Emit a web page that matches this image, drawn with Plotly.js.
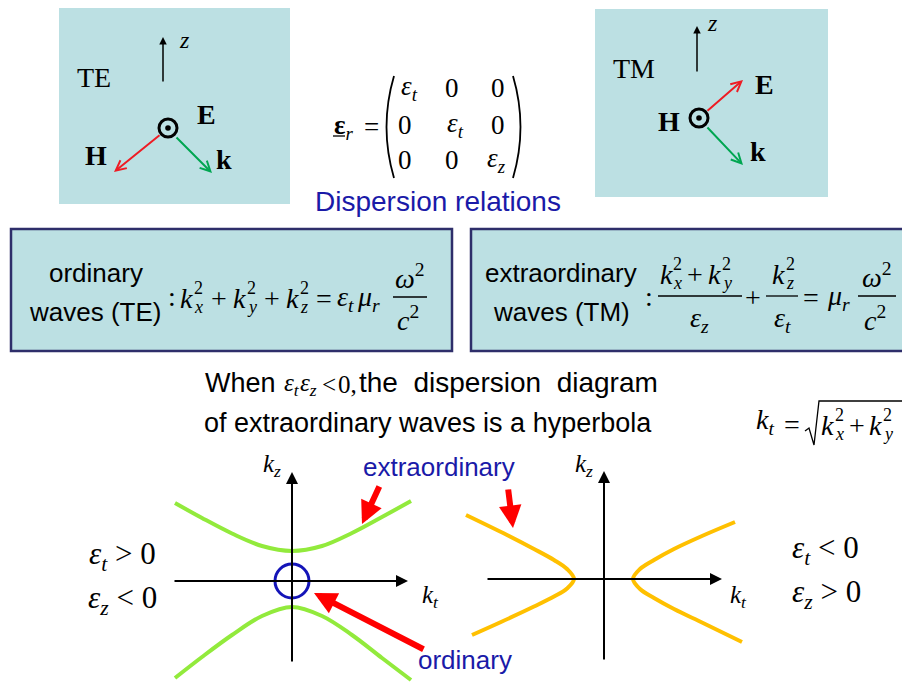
<!DOCTYPE html>
<html><head><meta charset="utf-8">
<script src="https://cdn.plot.ly/plotly-3.0.1.min.js"></script>
<style>html,body{margin:0;padding:0;background:#fff}</style>
</head><body><div id="chart" style="width:902px;height:682px"></div>
<script>
// ---- data (kt, kz in diagram units) ----
const greenUpperKt = [-11.7, -9, -6, -3, 0, 3, 6, 9, 11.9];
const greenUpperKz = [7.8, 6.3, 4.75, 3.5, 3.0, 3.5, 4.8, 6.4, 8.0];
const greenLowerKt = [-11.7, -9, -6, -3, 0, 3, 6, 9, 11.9];
const greenLowerKz = [-9.7, -7.6, -5.4, -3.5, -2.6, -3.5, -5.4, -7.7, -9.9];
const orangeLeftKt = [-13.8, -9.7, -7.0, -5.0, -3.7, -3.0, -3.7, -5.0, -7.0, -10.3, -13.2];
const orangeLeftKz = [6.4, 4.4, 3.0, 1.9, 1.0, 0, -0.95, -1.75, -2.75, -4.3, -5.6];
const orangeRightKt = [13.1, 9.8, 7.0, 5.0, 3.6, 2.9, 3.6, 5.0, 7.0, 9.9, 13.8];
const orangeRightKz = [5.7, 4.3, 3.0, 1.9, 1.0, 0, -1.0, -1.9, -3.0, -4.4, -6.3];
const ordinaryKt = [0];
const ordinaryKz = [0];

const W = 902, H = 682;
const X = p => p / W, Y = p => 1 - p / H;
const SERIF = 'Liberation Serif, Times New Roman, serif';
const SANS = 'Liberation Sans, Arial, sans-serif';
const BOXFILL = '#BCE0E3';
const BLUE = '#1A1AA8';
const annotations = [], shapes = [];

function txt(text, x, y, o = {}) {
  annotations.push({text, x: X(x), y: Y(y), xref: 'paper', yref: 'paper', showarrow: false,
    xanchor: o.xa || 'center', yanchor: 'middle', borderpad: 0,
    font: {family: o.f || SERIF, size: o.s || 28, color: o.c || '#000'}});
}
function kss(x, y, base, sup, sub, dx = 14, s = 28) {
  txt('<i>' + base + '</i>', x, y, {xa: 'left', s});
  txt(sup, x + dx, y - 10, {xa: 'left', s: 18});
  txt('<i>' + sub + '</i>', x + dx, y + 9, {xa: 'left', s: 18});
}
function arrow(tx, ty, hx, hy, o) {
  annotations.push({x: X(hx), y: Y(hy), xref: 'paper', yref: 'paper', ax: tx - hx, ay: ty - hy,
    showarrow: true, text: '', arrowhead: o.h, arrowsize: o.size, arrowwidth: o.w, arrowcolor: o.c, standoff: 0});
}
function dataArrow(ref, tx, ty, hx, hy) {
  annotations.push({x: hx, y: hy, xref: 'x' + ref, yref: 'y' + ref, ax: tx, ay: ty,
    axref: 'x' + ref, ayref: 'y' + ref, showarrow: true, text: '', arrowhead: 2, arrowsize: 1.2,
    arrowwidth: 2, arrowcolor: '#000', standoff: 0});
}
function rect(x0, y0, x1, y1, line) {
  shapes.push({type: 'rect', xref: 'paper', yref: 'paper', x0: X(x0), x1: X(x1), y0: Y(y1), y1: Y(y0),
    fillcolor: BOXFILL, line: line || {width: 0}, layer: 'below'});
}
function hline(x0, x1, y, w = 1.3, c = '#000') {
  shapes.push({type: 'line', xref: 'paper', yref: 'paper', x0: X(x0), x1: X(x1), y0: Y(y), y1: Y(y), line: {color: c, width: w}});
}
function circ(cx, cy, r, fill, lw) {
  shapes.push({type: 'circle', xref: 'paper', yref: 'paper', x0: X(cx - r), x1: X(cx + r), y0: Y(cy + r), y1: Y(cy - r),
    fillcolor: fill || 'rgba(0,0,0,0)', line: {color: '#000', width: lw || 0}});
}
function path(pts, cmd, w = 1.3) {
  shapes.push({type: 'path', xref: 'paper', yref: 'paper', path: cmd(pts.map(p => X(p[0]) + ',' + Y(p[1]))), line: {color: '#000', width: w}});
}

// ---- boxes ----
rect(59, 8, 290, 204);
rect(595, 9, 828, 197);
rect(11, 229, 452, 351, {color: '#2E2E6A', width: 2.5});
rect(471, 229, 912, 351, {color: '#2E2E6A', width: 2.5});

// ---- TE panel ----
arrow(163, 83, 163, 37, {h: 2, size: 1, w: 1.5, c: '#000'});
txt('<i>z</i>', 184, 40, {s: 24});
txt('TE', 94, 77, {s: 28});
circ(168, 128, 9, null, 3); circ(168, 128, 2.8, '#000', 0);
arrow(161, 134, 114, 172, {h: 5, size: 1, w: 2, c: '#EE1C24'});
arrow(175, 136, 212, 173, {h: 5, size: 1, w: 2, c: '#00A651'});
txt('<b>E</b>', 206, 115, {s: 28});
txt('<b>H</b>', 96, 155, {s: 28});
txt('<b>k</b>', 224, 159, {s: 28});

// ---- TM panel ----
arrow(697, 73, 697, 26, {h: 2, size: 1, w: 1.5, c: '#000'});
txt('<i>z</i>', 712, 23, {s: 24});
txt('TM', 634, 68, {s: 28});
circ(699, 118, 9, null, 3); circ(699, 118, 2.8, '#000', 0);
arrow(706, 112, 743, 80, {h: 5, size: 1, w: 2, c: '#EE1C24'});
arrow(706, 126, 743, 165, {h: 5, size: 1, w: 2, c: '#00A651'});
txt('<b>E</b>', 764, 84, {s: 28});
txt('<b>H</b>', 669, 121, {s: 28});
txt('<b>k</b>', 758, 151, {s: 28});

// ---- permittivity tensor ----
txt('<b>ε</b><i><sub>r</sub></i>', 333, 127, {xa: 'left', s: 27});
hline(333, 345, 136, 1.3);
txt('=', 371, 127, {s: 27});
path([[394, 76], [379, 127], [394, 178]], p => `M${p[0]} Q${p[1]} ${p[2]}`, 1.8);
path([[513, 76], [528, 127], [513, 178]], p => `M${p[0]} Q${p[1]} ${p[2]}`, 1.8);
txt('<i>ε<sub>t</sub></i>', 409, 88, {s: 27}); txt('0', 452, 88, {s: 27}); txt('0', 498, 88, {s: 27});
txt('0', 405, 125, {s: 27}); txt('<i>ε<sub>t</sub></i>', 456, 125, {s: 27}); txt('0', 498, 125, {s: 27});
txt('0', 405, 160, {s: 27}); txt('0', 452, 160, {s: 27}); txt('<i>ε<sub>z</sub></i>', 496, 160, {s: 27});
txt('Dispersion relations', 438, 202, {f: SANS, s: 28, c: BLUE});

// ---- ordinary waves box ----
txt('ordinary', 96, 273, {f: SANS, s: 26});
txt('waves (TE)', 95, 312, {f: SANS, s: 26});
txt(':', 172, 296);
kss(179, 298, 'k', '2', 'x');
txt('+', 219, 298);
kss(232, 298, 'k', '2', 'y');
txt('+', 272, 298);
kss(285, 298, 'k', '2', 'z');
txt('=', 324, 298);
txt('<i>ε<sub>t</sub></i>', 345, 298);
txt('<i>μ<sub>r</sub></i>', 368, 298);
hline(393, 427, 297);
txt('<i>ω</i><sup>2</sup>', 410, 276);
txt('<i>c</i><sup>2</sup>', 408, 318);

// ---- extraordinary waves box ----
txt('extraordinary', 561, 273, {f: SANS, s: 26});
txt('waves (TM)', 561, 312, {f: SANS, s: 26});
txt(':', 649, 296);
kss(659, 274, 'k', '2', 'x', 13);
txt('+', 695, 274);
kss(707, 274, 'k', '2', 'y');
hline(658, 742, 296);
txt('<i>ε<sub>z</sub></i>', 699, 319);
txt('+', 753, 297);
kss(771, 274, 'k', '2', 'z');
hline(766, 798, 296);
txt('<i>ε<sub>t</sub></i>', 782, 319);
txt('=', 811, 297);
txt('<i>μ<sub>r</sub></i>', 838, 297);
hline(858, 896, 296);
txt('<i>ω</i><sup>2</sup>', 877, 275);
txt('<i>c</i><sup>2</sup>', 875, 318);

// ---- statement ----
txt('When', 204, 383, {xa: 'left', f: SANS, s: 27});
txt('<i>ε<sub>t</sub></i>', 283, 384, {xa: 'left', s: 25});
txt('<i>ε<sub>z</sub></i>', 299, 384, {xa: 'left', s: 25});
txt('&lt;', 329, 384, {s: 25});
txt('0,', 337, 384, {xa: 'left', s: 25});
txt('the&nbsp; dispersion&nbsp; diagram', 358, 383, {xa: 'left', f: SANS, s: 28});
txt('of extraordinary waves is a hyperbola', 203, 423, {xa: 'left', f: SANS, s: 27});

// ---- kt definition ----
txt('<i>k<sub>t</sub></i>', 765, 421);
txt('=', 792, 424);
path([[805, 431], [809, 428], [814, 445], [819, 401], [905, 401]], p => `M${p[0]} L${p[1]} L${p[2]} L${p[3]} L${p[4]}`);
kss(820, 425, 'k', '2', 'x');
txt('+', 857, 425);
kss(868, 425, 'k', '2', 'y');

// ---- diagram labels ----
txt('<i>k<sub>z</sub></i>', 272, 466, {s: 25});
txt('<i>k<sub>t</sub></i>', 430, 596, {s: 25});
txt('<i>k<sub>z</sub></i>', 584, 466, {s: 25});
txt('<i>k<sub>t</sub></i>', 738, 596, {s: 25});
txt('<i>ε<sub>t</sub></i> &gt; 0', 122, 556, {s: 31});
txt('<i>ε<sub>z</sub></i> &lt; 0', 122, 600, {s: 31});
txt('<i>ε<sub>t</sub></i> &lt; 0', 825, 550, {s: 31});
txt('<i>ε<sub>z</sub></i> &gt; 0', 826, 594, {s: 31});
txt('extraordinary', 439, 467, {f: SANS, s: 26, c: BLUE});
txt('ordinary', 465, 660, {f: SANS, s: 26, c: BLUE});

// axes arrows (data coordinates of each diagram)
dataArrow('', -11.9, 0, 11.6, 0);
dataArrow('', 0, -8.2, 0, 10.9);
dataArrow('2', -11.8, 0, 11.8, 0);
dataArrow('2', 0, -8.2, 0, 10.8);

// red pointer arrows
arrow(380, 485, 362, 524, {h: 2, size: 0.75, w: 6, c: '#FF0000'});
arrow(425, 650, 314, 593, {h: 2, size: 0.75, w: 6, c: '#FF0000'});
arrow(508, 488, 513, 528, {h: 2, size: 0.75, w: 6, c: '#FF0000'});

const GREEN = '#92EA3C', ORANGE = '#FFC000';
const traces = [
  {x: greenUpperKt, y: greenUpperKz, xaxis: 'x', yaxis: 'y', mode: 'lines', line: {color: GREEN, width: 4, shape: 'spline'}},
  {x: greenLowerKt, y: greenLowerKz, xaxis: 'x', yaxis: 'y', mode: 'lines', line: {color: GREEN, width: 4, shape: 'spline'}},
  {x: ordinaryKt, y: ordinaryKz, xaxis: 'x', yaxis: 'y', mode: 'markers',
    marker: {symbol: 'circle-open', size: 34, color: '#1414B8', line: {width: 3, color: '#1414B8'}}},
  {x: orangeLeftKt, y: orangeLeftKz, xaxis: 'x2', yaxis: 'y2', mode: 'lines', line: {color: ORANGE, width: 4, shape: 'spline'}},
  {x: orangeRightKt, y: orangeRightKz, xaxis: 'x2', yaxis: 'y2', mode: 'lines', line: {color: ORANGE, width: 4, shape: 'spline'}}
];
const hidden = {visible: false, fixedrange: true};
const layout = {
  width: W, height: H, margin: {l: 0, r: 0, t: 0, b: 0},
  paper_bgcolor: '#fff', plot_bgcolor: 'rgba(0,0,0,0)', showlegend: false,
  xaxis: Object.assign({domain: [X(152), X(432)], range: [-14, 14], anchor: 'y'}, hidden),
  yaxis: Object.assign({domain: [0, Y(460)], range: [-10.1, 12.1], anchor: 'x'}, hidden),
  xaxis2: Object.assign({domain: [X(464), X(744)], range: [-14, 14], anchor: 'y2'}, hidden),
  yaxis2: Object.assign({domain: [0, Y(460)], range: [-10.3, 11.9], anchor: 'x2'}, hidden),
  shapes, annotations
};
Plotly.newPlot('chart', traces, layout, {staticPlot: true, displayModeBar: false});
</script></body></html>
